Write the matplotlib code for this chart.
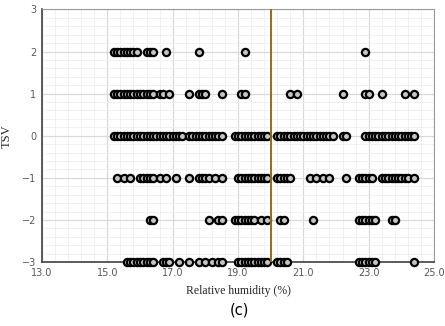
import matplotlib
matplotlib.use("Agg")
import matplotlib.pyplot as plt
from matplotlib.ticker import MultipleLocator, FormatStrFormatter

# relative humidity (%) of each vote, grouped by thermal sensation vote
rh_tsv_p2 = [15.2, 15.3, 15.4, 15.5, 15.6, 15.7, 15.8, 15.9, 16.2, 16.3, 16.4,
             16.8, 17.8, 19.2, 22.9]
rh_tsv_p1 = [15.2, 15.3, 15.4, 15.5, 15.6, 15.7, 15.8, 15.9, 16.0, 16.1, 16.2,
             16.3, 16.4, 16.6, 16.7, 16.9, 17.5, 17.8, 17.9, 18.0, 18.5, 19.1,
             19.2, 20.6, 20.8, 22.2, 22.9, 23.0, 23.4, 24.1, 24.4]
rh_tsv_0 = [15.2, 15.3, 15.4, 15.5, 15.6, 15.7, 15.8, 15.9, 16.0, 16.1, 16.2,
            16.3, 16.4, 16.5, 16.6, 16.7, 16.8, 16.9, 17.0, 17.1, 17.2, 17.3,
            17.5, 17.6, 17.7, 17.8, 17.9, 18.0, 18.1, 18.2, 18.3, 18.4, 18.5,
            18.9, 19.0, 19.1, 19.2, 19.3, 19.4, 19.5, 19.6, 19.7, 19.8, 19.9,
            20.2, 20.3, 20.4, 20.5, 20.6, 20.7, 20.8, 20.9, 21.0, 21.1, 21.2,
            21.3, 21.4, 21.5, 21.6, 21.7, 21.8, 21.9, 22.2, 22.3,
            22.9, 23.0, 23.1, 23.2, 23.3, 23.4, 23.5, 23.6, 23.7, 23.8, 23.9,
            24.0, 24.1, 24.2, 24.3, 24.4]
rh_tsv_m1 = [15.3, 15.5, 15.7, 16.0, 16.1, 16.2, 16.3, 16.4, 16.6, 16.8, 17.1,
             17.5, 17.8, 17.9, 18.0, 18.1, 18.3, 18.5, 19.0, 19.1, 19.2, 19.3,
             19.4, 19.5, 19.6, 19.7, 19.8, 19.9, 20.2, 20.3, 20.4, 20.5, 20.6,
             21.2, 21.4, 21.6, 21.8, 22.3, 22.7, 22.8, 22.9, 23.0, 23.1, 23.4,
             23.5, 23.6, 23.7, 23.8, 23.9, 24.0, 24.1, 24.2, 24.4]
rh_tsv_m2 = [16.3, 16.4, 18.1, 18.4, 18.5, 18.9, 19.0, 19.1, 19.2, 19.3, 19.4,
             19.5, 19.7, 19.9, 20.3, 20.4, 21.3, 22.7, 22.8, 22.9, 23.0, 23.1,
             23.2, 23.7, 23.8]
rh_tsv_m3 = [15.6, 15.7, 15.8, 15.9, 16.0, 16.1, 16.2, 16.3, 16.4, 16.7, 16.8,
             16.9, 17.2, 17.5, 17.8, 18.0, 18.2, 18.4, 18.5, 19.0, 19.1, 19.2,
             19.3, 19.4, 19.5, 19.6, 19.7, 19.8, 19.9, 20.2, 20.3, 20.4, 20.5,
             22.7, 22.8, 22.9, 23.0, 23.1, 23.2, 24.4]

tsv_levels = [2, 1, 0, -1, -2, -3]
rh_groups = [rh_tsv_p2, rh_tsv_p1, rh_tsv_0, rh_tsv_m1, rh_tsv_m2, rh_tsv_m3]

rh_threshold = 20.0


def main():
    fig = plt.figure(figsize=(4.45, 3.26), dpi=100)
    ax = fig.add_axes([0.0944, 0.1963, 0.8809, 0.7746])

    ax.set_xlim(13, 25)
    ax.set_ylim(-3, 3)
    # ticks start at 13.0, so shift the locators onto odd values
    ax.xaxis.set_major_locator(MultipleLocator(2, offset=1))
    ax.xaxis.set_minor_locator(MultipleLocator(0.4, offset=0.2))
    ax.yaxis.set_major_locator(MultipleLocator(1))
    ax.yaxis.set_minor_locator(MultipleLocator(0.2))
    ax.xaxis.set_major_formatter(FormatStrFormatter('%.1f'))

    ax.grid(which='major', color='#d9d9d9', lw=0.9, zorder=0)
    ax.grid(which='minor', color='#efefef', lw=0.6, zorder=0)
    ax.set_axisbelow(True)

    for tsv, rh in zip(tsv_levels, rh_groups):
        ax.plot(rh, [tsv] * len(rh), ls='none', marker='o', ms=5.2,
                mfc='#c4c4c4', mec='black', mew=1.6, zorder=3, clip_on=False)

    ax.axvline(rh_threshold, color='#9c6a12', lw=1.4, zorder=4)

    ax.tick_params(which='both', length=0, labelsize=7, colors='#595959', pad=4)
    for side in ['left', 'bottom']:
        ax.spines[side].set_color('#404040')
        ax.spines[side].set_linewidth(1.2)
    for side in ['top', 'right']:
        ax.spines[side].set_color('#9a9a9a')
        ax.spines[side].set_linewidth(0.8)

    ax.set_xlabel('Relative humidity (%)', fontsize=8.5, family='Liberation Serif',
                  color='#262626', labelpad=5)
    ax.set_ylabel('TSV', fontsize=9, family='Liberation Serif',
                  color='#262626', labelpad=7)
    fig.text(0.539, 0.025, '(c)', fontsize=10.5, ha='center', va='bottom')

    plt.savefig('out.png', dpi=100)


if __name__ == "__main__":
    main()
